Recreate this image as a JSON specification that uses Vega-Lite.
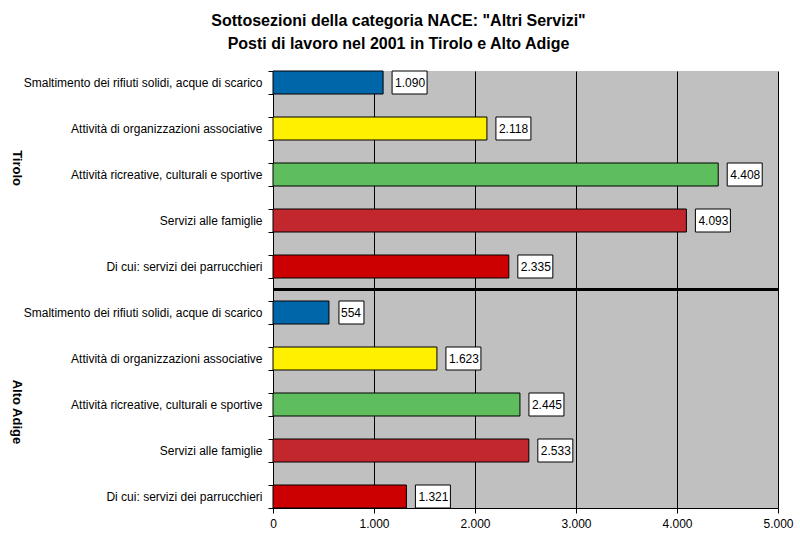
{
  "$schema": "https://vega.github.io/schema/vega-lite/v6.json",
  "autosize": "none",
  "width": 505,
  "height": 437,
  "padding": {"left": 273, "top": 71, "right": 22, "bottom": 46},
  "background": "white",
  "title": {
    "text": ["Sottosezioni della categoria NACE: \"Altri Servizi\"", "Posti di lavoro nel 2001 in Tirolo e Alto Adige"],
    "font": "Liberation Sans",
    "fontSize": 16,
    "fontWeight": "bold",
    "color": "black",
    "anchor": "middle",
    "dx": -127,
    "offset": 13,
    "lineHeight": 23
  },
  "config": {
    "locale": {"number": {"decimal": ",", "thousands": ".", "grouping": [3], "currency": ["", " €"]}},
    "view": {"fill": "#C0C0C0", "stroke": null},
    "font": "Liberation Sans",
    "axis": {"labelFont": "Liberation Sans", "labelColor": "black", "labelFontSize": 12}
  },
  "data": {
    "values": [
      {"group": "Tirolo", "key": "T|Smaltimento dei rifiuti solidi, acque di scarico", "categoria": "Smaltimento dei rifiuti solidi, acque di scarico", "posti": 1090},
      {"group": "Tirolo", "key": "T|Attività di organizzazioni associative", "categoria": "Attività di organizzazioni associative", "posti": 2118},
      {"group": "Tirolo", "key": "T|Attività ricreative, culturali e sportive", "categoria": "Attività ricreative, culturali e sportive", "posti": 4408},
      {"group": "Tirolo", "key": "T|Servizi alle famiglie", "categoria": "Servizi alle famiglie", "posti": 4093},
      {"group": "Tirolo", "key": "T|Di cui: servizi dei parrucchieri", "categoria": "Di cui: servizi dei parrucchieri", "posti": 2335},
      {"group": "Alto Adige", "key": "A|Smaltimento dei rifiuti solidi, acque di scarico", "categoria": "Smaltimento dei rifiuti solidi, acque di scarico", "posti": 554},
      {"group": "Alto Adige", "key": "A|Attività di organizzazioni associative", "categoria": "Attività di organizzazioni associative", "posti": 1623},
      {"group": "Alto Adige", "key": "A|Attività ricreative, culturali e sportive", "categoria": "Attività ricreative, culturali e sportive", "posti": 2445},
      {"group": "Alto Adige", "key": "A|Servizi alle famiglie", "categoria": "Servizi alle famiglie", "posti": 2533},
      {"group": "Alto Adige", "key": "A|Di cui: servizi dei parrucchieri", "categoria": "Di cui: servizi dei parrucchieri", "posti": 1321}
    ]
  },
  "layer": [
    {
      "encoding": {
        "y": {
          "field": "key",
          "type": "nominal",
          "sort": null,
          "scale": {
            "type": "band",
            "paddingInner": 0,
            "paddingOuter": 0,
            "domain": [
              "T|Smaltimento dei rifiuti solidi, acque di scarico", "g1",
              "T|Attività di organizzazioni associative", "g2",
              "T|Attività ricreative, culturali e sportive", "g3",
              "T|Servizi alle famiglie", "g4",
              "T|Di cui: servizi dei parrucchieri", "sep",
              "A|Smaltimento dei rifiuti solidi, acque di scarico", "g5",
              "A|Attività di organizzazioni associative", "g6",
              "A|Attività ricreative, culturali e sportive", "g7",
              "A|Servizi alle famiglie", "g8",
              "A|Di cui: servizi dei parrucchieri"
            ]
          },
          "axis": {
            "title": null,
            "tickBand": "extent",
            "labelExpr": "indexof(datum.label, '|') >= 0 ? split(datum.label, '|')[1] : ''",
            "labelLimit": 400,
            "labelPadding": 6,
            "tickSize": 5,
            "tickColor": "black",
            "domainColor": "black",
            "grid": false
          }
        },
        "x": {
          "field": "posti",
          "type": "quantitative",
          "scale": {"domain": [0, 5000], "nice": false},
          "axis": {
            "title": null,
            "values": [0, 1000, 2000, 3000, 4000, 5000],
            "format": ",d",
            "grid": true,
            "gridColor": "black",
            "gridOpacity": 1,
            "tickColor": "black",
            "tickSize": 5,
            "domainColor": "black",
            "labelFlush": false,
            "labelPadding": 5
          }
        }
      },
      "layer": [
        {
          "mark": {"type": "bar", "stroke": "black", "strokeWidth": 1},
          "encoding": {
            "color": {
              "field": "categoria",
              "type": "nominal",
              "legend": null,
              "scale": {
                "domain": ["Smaltimento dei rifiuti solidi, acque di scarico", "Attività di organizzazioni associative", "Attività ricreative, culturali e sportive", "Servizi alle famiglie", "Di cui: servizi dei parrucchieri"],
                "range": ["#0066AA", "#FFF000", "#5EBE5E", "#C1272D", "#CC0000"]
              }
            }
          }
        },
        {
          "transform": [{"filter": "datum.posti >= 1000"}],
          "mark": {"type": "rect", "fill": "white", "stroke": "black", "strokeWidth": 1, "xOffset": 9, "x2Offset": 44},
          "encoding": {"x2": {"field": "posti"}}
        },
        {
          "transform": [{"filter": "datum.posti < 1000"}],
          "mark": {"type": "rect", "fill": "white", "stroke": "black", "strokeWidth": 1, "xOffset": 10, "x2Offset": 35},
          "encoding": {"x2": {"field": "posti"}}
        },
        {
          "mark": {"type": "text", "align": "left", "baseline": "middle", "dx": 12, "fontSize": 12, "font": "Liberation Sans", "color": "black"},
          "encoding": {"text": {"field": "posti", "type": "quantitative", "format": ",d"}}
        },
        {
          "mark": {"type": "rule", "color": "black", "strokeWidth": 3},
          "encoding": {"y": {"datum": "sep", "bandPosition": 0.5}, "x": {"datum": 0}, "x2": {"datum": 5000}}
        }
      ]
    },
    {
      "mark": {"type": "point", "opacity": 0},
      "encoding": {
        "y": {
          "field": "group",
          "type": "nominal",
          "sort": null,
          "scale": {"type": "point", "domain": ["Tirolo", "Alto Adige"], "padding": 0.396},
          "axis": {
            "title": null,
            "orient": "left",
            "offset": 252,
            "domain": false,
            "ticks": false,
            "labelPadding": 5,
            "labelAngle": 90,
            "labelAlign": "center",
            "labelBaseline": "middle",
            "labelFontWeight": "bold",
            "labelFontSize": 13
          }
        },
        "x": {"field": "posti", "type": "quantitative"}
      }
    }
  ],
  "resolve": {"scale": {"y": "independent"}, "axis": {"y": "independent"}}
}
